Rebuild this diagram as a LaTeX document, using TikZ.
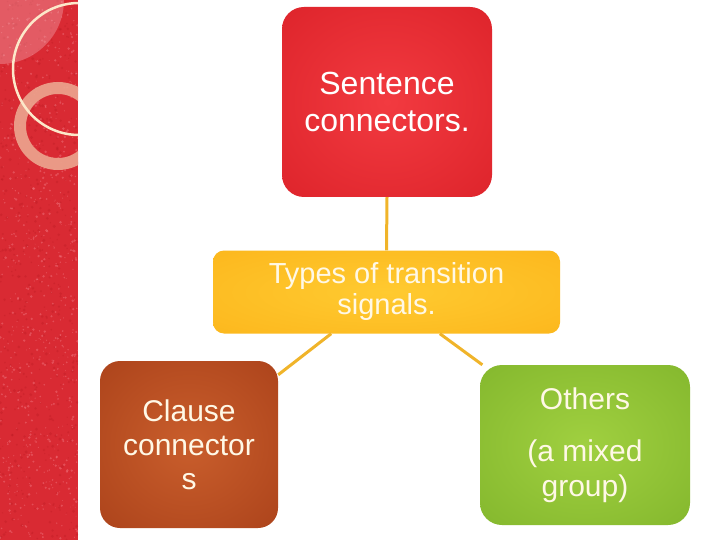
\documentclass[tikz,border=0pt]{standalone}
\usepackage{fontspec}
\setmainfont{Liberation Sans}
\definecolor{stripred}{HTML}{D92A33}
\definecolor{glitlight}{HTML}{F37A84}
\definecolor{glitdark}{HTML}{B51820}
\definecolor{creamline}{HTML}{FCE8CA}
\definecolor{salmon}{HTML}{ECA690}
\definecolor{pinkveil}{HTML}{F7B8C0}
\definecolor{connc}{HTML}{F0B42A}
\definecolor{redin}{HTML}{F23A40}
\definecolor{redout}{HTML}{CF141C}
\definecolor{orin}{HTML}{FFCA30}
\definecolor{orout}{HTML}{FAAA10}
\definecolor{brin}{HTML}{C95E2C}
\definecolor{brout}{HTML}{98300F}
\definecolor{grin}{HTML}{A0D040}
\definecolor{grout}{HTML}{70A620}
\definecolor{creamtext}{HTML}{FFF8E6}
\pgfdeclareradialshading{redshade}{\pgfpoint{0bp}{0bp}}{color(0bp)=(redin); color(62bp)=(redout)}
\pgfdeclareradialshading{orshade}{\pgfpoint{0bp}{0bp}}{color(0bp)=(orin); color(62bp)=(orout)}
\pgfdeclareradialshading{brshade}{\pgfpoint{0bp}{0bp}}{color(0bp)=(brin); color(62bp)=(brout)}
\pgfdeclareradialshading{grshade}{\pgfpoint{0bp}{0bp}}{color(0bp)=(grin); color(62bp)=(grout)}
\tikzset{
  box/.style={shade, rounded corners=22, inner sep=0pt, align=center, text=white,
    font=\fontsize{30}{34}\selectfont},
  conn/.style={draw=connc, line width=3pt}
}
\begin{document}
\begin{tikzpicture}[x=1pt,y=-1pt]
\useasboundingbox (0,0) rectangle (720,540);
\fill[white] (0,0) rectangle (720,540);
% decorative strip
\begin{scope}
\clip (0,0) rectangle (78,540);
\fill[stripred] (0,0) rectangle (78,540);
\pgfmathsetseed{11}
\foreach \i in {1,...,500}{
  \pgfmathsetmacro\xx{rnd*78}
  \pgfmathsetmacro\yy{rnd*540}
  \pgfmathsetmacro\rr{0.6+rnd*1.1}
  \fill[glitdark, opacity=0.3] (\xx,\yy) circle[radius=\rr];
}
\foreach \i in {1,...,700}{
  \pgfmathsetmacro\xx{rnd*78}
  \pgfmathsetmacro\yy{rnd*540}
  \pgfmathsetmacro\rr{0.4+rnd*1.0}
  \fill[glitlight, opacity=0.45] (\xx,\yy) circle[radius=\rr];
}
\fill[pinkveil, opacity=0.35] (0,0) -- (64,0) arc[start angle=0, end angle=90, radius=64] -- cycle;
\draw[salmon, opacity=0.9, line width=12pt] (58,126) circle[radius=38];
\draw[creamline, line width=2.5pt] (79,69) circle[radius=66];
\end{scope}
% boxes
\node[box, shading=redshade, minimum width=210, minimum height=190,
      font=\fontsize{32}{37}\selectfont] (top) at (387,102) {Sentence\\connectors.};
\node[box, shading=orshade, rounded corners=11, minimum width=347, minimum height=83,
      text=creamtext, font=\fontsize{29}{31}\selectfont] (mid) at (386.5,292) {Types of transition\\signals.};
\node[box, shading=brshade, minimum width=178, minimum height=167, rounded corners=20,
      text=creamtext] (clause) at (189,444.5) {Clause\\connector\\s};
\node[box, shading=grshade, minimum width=210, minimum height=160,
      text=creamtext, font=\fontsize{30}{35}\selectfont] (other) at (585,445) {Others\\[17pt](a mixed\\group)};
% connectors
\draw[conn] (top.south) -- (mid.north);
\draw[conn] (mid.217) -- (clause.38);
\draw[conn] (mid.-38.5) -- (other.142.6);
\end{tikzpicture}
\end{document}
